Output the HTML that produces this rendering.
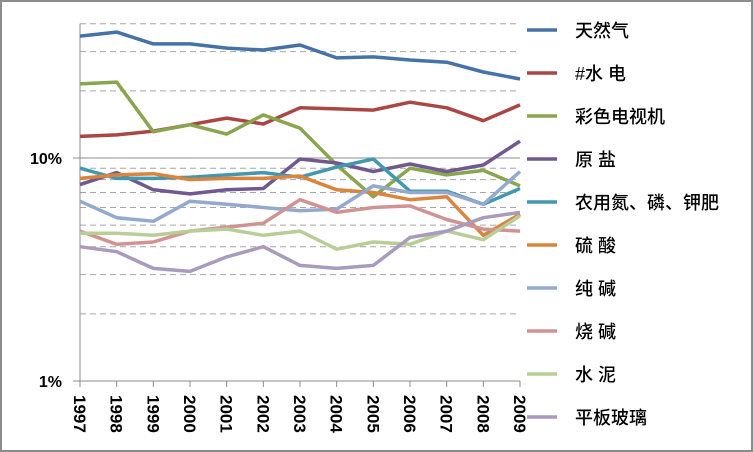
<!DOCTYPE html>
<html><head><meta charset="utf-8">
<style>
html,body{margin:0;padding:0;background:#fff;}
#wrap{position:relative;width:753px;height:452px;box-sizing:border-box;border:2px solid #8c8c8c;overflow:hidden;}
svg{position:absolute;left:-2px;top:-2px;}
text{font-family:"Liberation Sans","Noto Sans CJK SC",sans-serif;}
</style></head>
<body>
<div id="wrap">
<svg id="chart" width="753" height="452"></svg>
</div>
<script>
const years = ["1997","1998","1999","2000","2001","2002","2003","2004","2005","2006","2007","2008","2009"];
const seriesNames = ["天然气","#水 电","彩色电视机","原 盐","农用氮、磷、钾肥","硫 酸","纯 碱","烧 碱","水 泥","平板玻璃"];
const seriesColors = ["#4572a7","#aa4643","#89a54e","#71588f","#4198af","#db843d","#93a9cf","#d19392","#b9cd96","#a99bbd"];
const sGas = [35.2,36.7,32.5,32.5,31.1,30.5,32.1,28.1,28.4,27.5,26.9,24.3,22.6];
const sHydro = [12.5,12.7,13.2,14.1,15.1,14.2,16.8,16.6,16.4,17.8,16.8,14.7,17.3];
const sTV = [21.5,21.9,13.1,14.1,12.8,15.6,13.6,9.3,6.7,9.0,8.4,8.8,7.5];
const sSalt = [7.6,8.6,7.2,6.9,7.2,7.3,9.9,9.5,8.7,9.4,8.7,9.3,11.9];
const sFert = [9.0,8.1,8.1,8.2,8.4,8.6,8.2,9.1,9.9,7.1,7.1,6.2,7.3];
const sAcid = [8.1,8.4,8.5,8.0,8.1,8.1,8.3,7.2,7.0,6.5,6.7,4.5,5.6];
const sSoda = [6.4,5.4,5.2,6.4,6.2,6.0,5.8,5.9,7.5,7.0,7.0,6.2,8.7];
const sCaustic = [4.7,4.1,4.2,4.7,4.9,5.1,6.5,5.7,6.0,6.1,5.3,4.8,4.7];
const sCement = [4.6,4.6,4.5,4.7,4.8,4.5,4.7,3.9,4.2,4.1,4.7,4.3,5.5];
const sGlass = [4.0,3.8,3.2,3.1,3.6,4.0,3.3,3.2,3.3,4.4,4.7,5.4,5.7];
const gridVals = [2,3,4,5,6,7,8,9,20,30,40];
const tickVals = [1,10];
const tickLabels = ["1%","10%"];

const allSeries = [sGas,sHydro,sTV,sSalt,sFert,sAcid,sSoda,sCaustic,sCement,sGlass];
const NS="http://www.w3.org/2000/svg";
const svg=document.getElementById('chart');
const X0=80,X1=520,Y1=158,DEC=223,YB=381;
function xs(i){return X0+(X1-X0)*i/(years.length-1);}
function ys(v){return Y1-(Math.log10(v)-1)*DEC;}
function mk(t,a){const e=document.createElementNS(NS,t);for(const k in a)e.setAttribute(k,a[k]);svg.appendChild(e);return e;}

gridVals.forEach(v=>{
  const l=mk('line',{x1:X0,x2:X1,y1:ys(v),y2:ys(v),stroke:'#a6a6a6','stroke-width':1,'stroke-dasharray':'6,4'});
  
  
});
const g10=mk('line',{x1:X0,x2:X1,y1:ys(10),y2:ys(10),stroke:'#8c8c8c','stroke-width':1});


const ya=mk('line',{x1:X0,x2:X0,y1:ys(40),y2:YB,stroke:'#8c8c8c','stroke-width':1});


const xa=mk('line',{x1:X0-7,x2:X1,y1:YB,y2:YB,stroke:'#8c8c8c','stroke-width':1});


tickVals.forEach((v,i)=>{
  const tk=mk('line',{x1:X0-7,x2:X0,y1:ys(v),y2:ys(v),stroke:'#8c8c8c'});
  
  
  const t=mk('text',{x:X0-18,y:ys(v)+6,'text-anchor':'end','font-size':16,'font-weight':'bold',fill:'#000'});
  t.textContent=tickLabels[i];
  
  
});
years.forEach((y,i)=>{
  const x=xs(i);
  const tk=mk('line',{x1:x,x2:x,y1:YB,y2:YB+6,stroke:'#8c8c8c'});
  
  
  const t=mk('text',{x:0,y:0,transform:`translate(${x-6},${YB+14}) rotate(90)`,'font-size':17,'font-weight':'bold',fill:'#000'});
  t.textContent=y;
  
  
});
allSeries.forEach((s,k)=>{
  const pts=s.map((v,i)=>xs(i).toFixed(1)+','+ys(v).toFixed(1)).join(' ');
  const p=mk('polyline',{points:pts,fill:'none',stroke:seriesColors[k],'stroke-width':3.5,'stroke-linejoin':'round'});
  
  
});
seriesNames.forEach((n,k)=>{
  const y=30+k*43;
  const l=mk('line',{x1:527,x2:557,y1:y,y2:y,stroke:seriesColors[k],'stroke-width':3.5});
  
  
  const t=mk('text',{x:575,y:y+7,'font-size':18,'font-weight':'500',fill:'#000'});
  t.textContent=n;
  
  
});
</script>
</body></html>
